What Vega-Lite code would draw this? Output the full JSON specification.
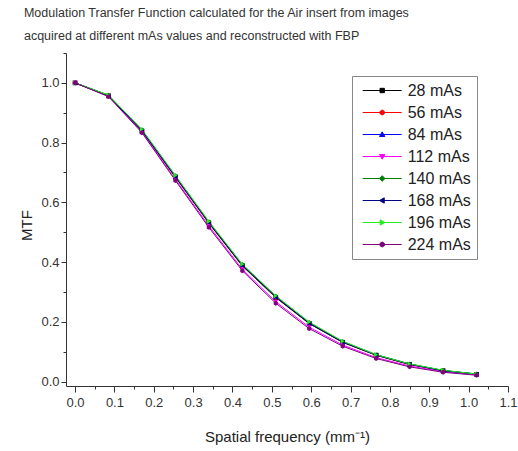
{
  "$schema": "https://vega.github.io/schema/vega-lite/v6.json",
  "width": 442,
  "height": 333,
  "autosize": {"type": "none"},
  "padding": {"left": 66, "top": 53, "right": 10, "bottom": 65},
  "background": "white",
  "title": {
    "text": ["Modulation Transfer Function calculated for the Air insert from images", "acquired at different mAs values and reconstructed with FBP"],
    "anchor": "start",
    "dx": 4,
    "fontSize": 12.5,
    "fontWeight": "normal",
    "font": "Liberation Sans",
    "color": "#333333",
    "lineHeight": 23,
    "offset": 10
  },
  "config": {"font": "Liberation Sans", "view": {"stroke": null}},
  "data": {"values": [
    {"x": 0, "s": "28 mAs", "y": 1.0}, {"x": 0.085, "s": "28 mAs", "y": 0.956}, {"x": 0.17, "s": "28 mAs", "y": 0.838}, {"x": 0.255, "s": "28 mAs", "y": 0.684}, {"x": 0.34, "s": "28 mAs", "y": 0.530}, {"x": 0.425, "s": "28 mAs", "y": 0.387}, {"x": 0.51, "s": "28 mAs", "y": 0.281}, {"x": 0.595, "s": "28 mAs", "y": 0.194}, {"x": 0.68, "s": "28 mAs", "y": 0.131}, {"x": 0.765, "s": "28 mAs", "y": 0.088}, {"x": 0.85, "s": "28 mAs", "y": 0.057}, {"x": 0.935, "s": "28 mAs", "y": 0.036}, {"x": 1.02, "s": "28 mAs", "y": 0.024},
    {"x": 0, "s": "56 mAs", "y": 1.0}, {"x": 0.085, "s": "56 mAs", "y": 0.957}, {"x": 0.17, "s": "56 mAs", "y": 0.839}, {"x": 0.255, "s": "56 mAs", "y": 0.685}, {"x": 0.34, "s": "56 mAs", "y": 0.531}, {"x": 0.425, "s": "56 mAs", "y": 0.388}, {"x": 0.51, "s": "56 mAs", "y": 0.282}, {"x": 0.595, "s": "56 mAs", "y": 0.195}, {"x": 0.68, "s": "56 mAs", "y": 0.132}, {"x": 0.765, "s": "56 mAs", "y": 0.088}, {"x": 0.85, "s": "56 mAs", "y": 0.057}, {"x": 0.935, "s": "56 mAs", "y": 0.036}, {"x": 1.02, "s": "56 mAs", "y": 0.024},
    {"x": 0, "s": "84 mAs", "y": 1.0}, {"x": 0.085, "s": "84 mAs", "y": 0.958}, {"x": 0.17, "s": "84 mAs", "y": 0.841}, {"x": 0.255, "s": "84 mAs", "y": 0.687}, {"x": 0.34, "s": "84 mAs", "y": 0.533}, {"x": 0.425, "s": "84 mAs", "y": 0.390}, {"x": 0.51, "s": "84 mAs", "y": 0.284}, {"x": 0.595, "s": "84 mAs", "y": 0.196}, {"x": 0.68, "s": "84 mAs", "y": 0.133}, {"x": 0.765, "s": "84 mAs", "y": 0.089}, {"x": 0.85, "s": "84 mAs", "y": 0.058}, {"x": 0.935, "s": "84 mAs", "y": 0.037}, {"x": 1.02, "s": "84 mAs", "y": 0.025},
    {"x": 0, "s": "112 mAs", "y": 1.0}, {"x": 0.085, "s": "112 mAs", "y": 0.955}, {"x": 0.17, "s": "112 mAs", "y": 0.836}, {"x": 0.255, "s": "112 mAs", "y": 0.677}, {"x": 0.34, "s": "112 mAs", "y": 0.521}, {"x": 0.425, "s": "112 mAs", "y": 0.376}, {"x": 0.51, "s": "112 mAs", "y": 0.267}, {"x": 0.595, "s": "112 mAs", "y": 0.182}, {"x": 0.68, "s": "112 mAs", "y": 0.122}, {"x": 0.765, "s": "112 mAs", "y": 0.080}, {"x": 0.85, "s": "112 mAs", "y": 0.052}, {"x": 0.935, "s": "112 mAs", "y": 0.033}, {"x": 1.02, "s": "112 mAs", "y": 0.022},
    {"x": 0, "s": "140 mAs", "y": 1.0}, {"x": 0.085, "s": "140 mAs", "y": 0.959}, {"x": 0.17, "s": "140 mAs", "y": 0.843}, {"x": 0.255, "s": "140 mAs", "y": 0.689}, {"x": 0.34, "s": "140 mAs", "y": 0.535}, {"x": 0.425, "s": "140 mAs", "y": 0.392}, {"x": 0.51, "s": "140 mAs", "y": 0.286}, {"x": 0.595, "s": "140 mAs", "y": 0.198}, {"x": 0.68, "s": "140 mAs", "y": 0.134}, {"x": 0.765, "s": "140 mAs", "y": 0.090}, {"x": 0.85, "s": "140 mAs", "y": 0.059}, {"x": 0.935, "s": "140 mAs", "y": 0.037}, {"x": 1.02, "s": "140 mAs", "y": 0.025},
    {"x": 0, "s": "168 mAs", "y": 1.0}, {"x": 0.085, "s": "168 mAs", "y": 0.957}, {"x": 0.17, "s": "168 mAs", "y": 0.840}, {"x": 0.255, "s": "168 mAs", "y": 0.686}, {"x": 0.34, "s": "168 mAs", "y": 0.532}, {"x": 0.425, "s": "168 mAs", "y": 0.389}, {"x": 0.51, "s": "168 mAs", "y": 0.283}, {"x": 0.595, "s": "168 mAs", "y": 0.195}, {"x": 0.68, "s": "168 mAs", "y": 0.132}, {"x": 0.765, "s": "168 mAs", "y": 0.089}, {"x": 0.85, "s": "168 mAs", "y": 0.058}, {"x": 0.935, "s": "168 mAs", "y": 0.036}, {"x": 1.02, "s": "168 mAs", "y": 0.025},
    {"x": 0, "s": "196 mAs", "y": 1.0}, {"x": 0.085, "s": "196 mAs", "y": 0.959}, {"x": 0.17, "s": "196 mAs", "y": 0.844}, {"x": 0.255, "s": "196 mAs", "y": 0.690}, {"x": 0.34, "s": "196 mAs", "y": 0.536}, {"x": 0.425, "s": "196 mAs", "y": 0.393}, {"x": 0.51, "s": "196 mAs", "y": 0.287}, {"x": 0.595, "s": "196 mAs", "y": 0.199}, {"x": 0.68, "s": "196 mAs", "y": 0.135}, {"x": 0.765, "s": "196 mAs", "y": 0.090}, {"x": 0.85, "s": "196 mAs", "y": 0.059}, {"x": 0.935, "s": "196 mAs", "y": 0.038}, {"x": 1.02, "s": "196 mAs", "y": 0.025},
    {"x": 0, "s": "224 mAs", "y": 1.0}, {"x": 0.085, "s": "224 mAs", "y": 0.954}, {"x": 0.17, "s": "224 mAs", "y": 0.833}, {"x": 0.255, "s": "224 mAs", "y": 0.673}, {"x": 0.34, "s": "224 mAs", "y": 0.516}, {"x": 0.425, "s": "224 mAs", "y": 0.371}, {"x": 0.51, "s": "224 mAs", "y": 0.262}, {"x": 0.595, "s": "224 mAs", "y": 0.177}, {"x": 0.68, "s": "224 mAs", "y": 0.118}, {"x": 0.765, "s": "224 mAs", "y": 0.077}, {"x": 0.85, "s": "224 mAs", "y": 0.049}, {"x": 0.935, "s": "224 mAs", "y": 0.031}, {"x": 1.02, "s": "224 mAs", "y": 0.021}
  ]},
  "layer": [
    {
      "mark": {"type": "line", "strokeWidth": 1},
      "encoding": {
        "x": {
          "field": "x", "type": "quantitative",
          "scale": {"domain": [-0.023, 1.1], "nice": false, "zero": false},
          "axis": {
            "orient": "bottom",
            "values": [0, 0.1, 0.2, 0.3, 0.4, 0.5, 0.6, 0.7, 0.8, 0.9, 1.0, 1.1],
            "format": ".1f", "grid": false, "tickSize": 6, "tickColor": "#333333", "domainColor": "#333333",
            "labelFontSize": 13, "labelColor": "#333333", "labelPadding": 4, "labelFlush": false, "labelOverlap": false,
            "title": "Spatial frequency (mm⁻¹)", "titleFontSize": 15, "titleFontWeight": "normal", "titleColor": "#222222", "titlePadding": 20
          }
        },
        "y": {
          "field": "y", "type": "quantitative",
          "scale": {"domain": [-0.015, 1.1], "nice": false, "zero": false},
          "axis": {
            "orient": "left",
            "values": [0, 0.2, 0.4, 0.6, 0.8, 1.0],
            "format": ".1f", "grid": false, "tickSize": 5, "tickColor": "#333333", "domainColor": "#333333",
            "labelFontSize": 13, "labelColor": "#333333", "labelPadding": 2, "labelFlush": false, "labelOverlap": false,
            "title": "MTF", "titleFontSize": 15, "titleFontWeight": "normal", "titleColor": "#222222", "titlePadding": 6, "titleY": 172
          }
        },
        "color": {
          "field": "s", "type": "nominal",
          "scale": {
            "domain": ["28 mAs", "56 mAs", "84 mAs", "112 mAs", "140 mAs", "168 mAs", "196 mAs", "224 mAs"],
            "range": ["#000000", "#ff0000", "#0000ff", "#ff00ff", "#008000", "#000080", "#22ee22", "#800080"]
          },
          "legend": {
            "title": null, "orient": "none", "legendX": 286, "legendY": 23,
            "symbolType": "M-2.5,0H2.5M-0.28,-0.28H0.28V0.28H-0.28Z", "symbolSize": 243, "symbolStrokeWidth": 1,
            "labelFontSize": 16, "labelColor": "#222222", "labelFont": "Liberation Sans",
            "padding": 6, "symbolOffset": 15.7, "labelOffset": 17, "rowPadding": 5,
            "strokeColor": "#888888", "fillColor": "white",
            "encode": {"symbols": {"update": {
              "shape": {"signal": "['M-2.5,0H2.5M-0.28,-0.28H0.28V0.28H-0.28Z','M-2.5,0H2.5M-0.3,0A0.3,0.3,0,1,0,0.3,0A0.3,0.3,0,1,0,-0.3,0Z','M-2.5,0H2.5M0,-0.34L0.34,0.26H-0.34Z','M-2.5,0H2.5M0,0.34L0.34,-0.26H-0.34Z','M-2.5,0H2.5M0,-0.36L0.36,0L0,0.36L-0.36,0Z','M-2.5,0H2.5M-0.34,0L0.26,-0.34V0.34Z','M-2.5,0H2.5M0.34,0L-0.26,-0.34V0.34Z','M-2.5,0H2.5M0,-0.32L0.277,-0.16V0.16L0,0.32L-0.277,0.16V-0.16Z'][indexof(['28 mAs','56 mAs','84 mAs','112 mAs','140 mAs','168 mAs','196 mAs','224 mAs'], datum.value)]"},
              "fill": {"scale": "color", "field": "value"},
              "stroke": {"scale": "color", "field": "value"},
              "opacity": {"value": 1}, "fillOpacity": {"value": 1}
            }}}
          }
        }
      }
    },
    {
      "transform": [{"filter": "datum.s === '28 mAs'"}],
      "mark": {"type": "point", "filled": true, "size": 22, "opacity": 1, "shape": "square"},
      "encoding": {
        "x": {
          "field": "x", "type": "quantitative",
          "axis": {"orient": "bottom", "values": [0.05, 0.15, 0.25, 0.35, 0.45, 0.55, 0.65, 0.75, 0.85, 0.95, 1.05], "labels": false, "domain": false, "grid": false, "tickSize": 3, "tickColor": "#333333", "title": null}
        },
        "y": {
          "field": "y", "type": "quantitative",
          "axis": {"orient": "left", "values": [0.1, 0.3, 0.5, 0.7, 0.9, 1.1], "labels": false, "domain": false, "grid": false, "tickSize": 3, "tickColor": "#333333", "title": null}
        },
        "color": {"field": "s", "type": "nominal", "legend": null}
      }
    },
    {
      "transform": [{"filter": "datum.s === '56 mAs'"}],
      "mark": {"type": "point", "filled": true, "size": 22, "opacity": 1, "shape": "circle"},
      "encoding": {"x": {"field": "x", "type": "quantitative", "axis": null}, "y": {"field": "y", "type": "quantitative", "axis": null}, "color": {"field": "s", "type": "nominal", "legend": null}}
    },
    {
      "transform": [{"filter": "datum.s === '84 mAs'"}],
      "mark": {"type": "point", "filled": true, "size": 22, "opacity": 1, "shape": "triangle-up"},
      "encoding": {"x": {"field": "x", "type": "quantitative", "axis": null}, "y": {"field": "y", "type": "quantitative", "axis": null}, "color": {"field": "s", "type": "nominal", "legend": null}}
    },
    {
      "transform": [{"filter": "datum.s === '112 mAs'"}],
      "mark": {"type": "point", "filled": true, "size": 22, "opacity": 1, "shape": "triangle-down"},
      "encoding": {"x": {"field": "x", "type": "quantitative", "axis": null}, "y": {"field": "y", "type": "quantitative", "axis": null}, "color": {"field": "s", "type": "nominal", "legend": null}}
    },
    {
      "transform": [{"filter": "datum.s === '140 mAs'"}],
      "mark": {"type": "point", "filled": true, "size": 24, "opacity": 1, "shape": "diamond"},
      "encoding": {"x": {"field": "x", "type": "quantitative", "axis": null}, "y": {"field": "y", "type": "quantitative", "axis": null}, "color": {"field": "s", "type": "nominal", "legend": null}}
    },
    {
      "transform": [{"filter": "datum.s === '168 mAs'"}],
      "mark": {"type": "point", "filled": true, "size": 22, "opacity": 1, "shape": "triangle-left"},
      "encoding": {"x": {"field": "x", "type": "quantitative", "axis": null}, "y": {"field": "y", "type": "quantitative", "axis": null}, "color": {"field": "s", "type": "nominal", "legend": null}}
    },
    {
      "transform": [{"filter": "datum.s === '196 mAs'"}],
      "mark": {"type": "point", "filled": true, "size": 22, "opacity": 1, "shape": "triangle-right"},
      "encoding": {"x": {"field": "x", "type": "quantitative", "axis": null}, "y": {"field": "y", "type": "quantitative", "axis": null}, "color": {"field": "s", "type": "nominal", "legend": null}}
    },
    {
      "transform": [{"filter": "datum.s === '224 mAs'"}],
      "mark": {"type": "point", "filled": true, "size": 24, "opacity": 1, "shape": "M0,-1L0.866,-0.5L0.866,0.5L0,1L-0.866,0.5L-0.866,-0.5Z"},
      "encoding": {"x": {"field": "x", "type": "quantitative", "axis": null}, "y": {"field": "y", "type": "quantitative", "axis": null}, "color": {"field": "s", "type": "nominal", "legend": null}}
    }
  ],
  "resolve": {"axis": {"x": "independent", "y": "independent"}}
}
